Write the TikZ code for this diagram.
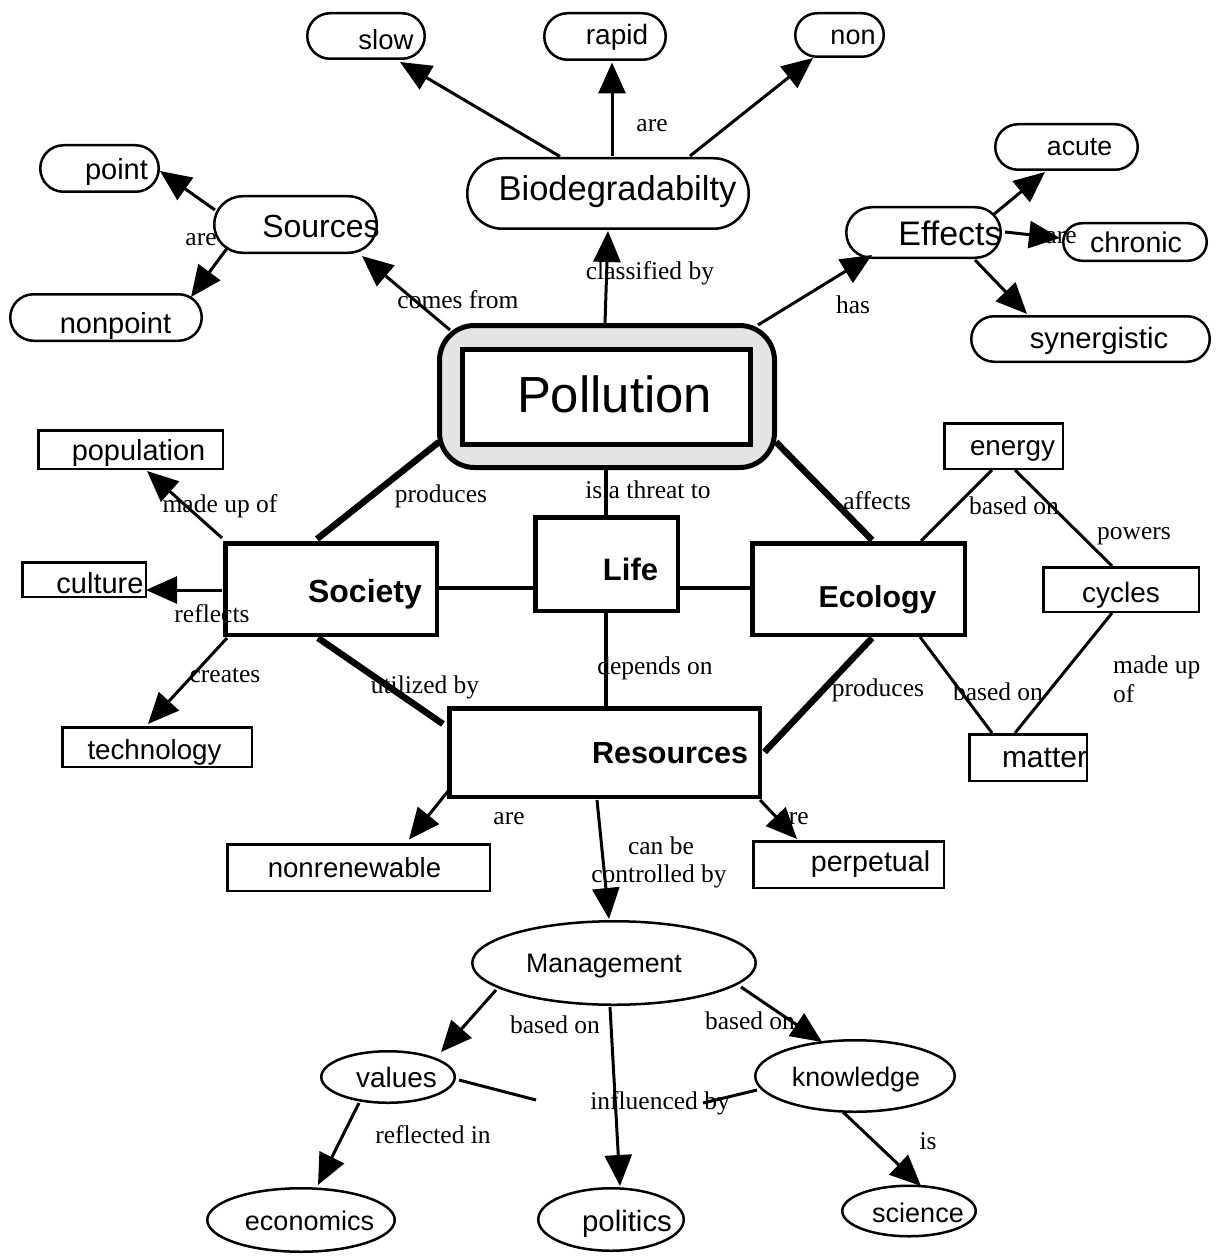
\documentclass[tikz,border=0pt]{standalone}
\usepackage{fontspec}
\setmainfont{Liberation Sans}
\newfontfamily\lblfont{Liberation Serif}
\usetikzlibrary{arrows.meta,shapes.misc,shapes.geometric}
\begin{document}
\begin{tikzpicture}[x=1pt,y=-1pt,
  pill/.style={rounded rectangle, draw, line width=2.5pt, fill=white, inner sep=0pt},
  sbox/.style={rectangle, draw, line width=2.5pt, fill=white, inner sep=0pt},
  bbox/.style={rectangle, draw, line width=4.5pt, fill=white, inner sep=0pt},
  oval/.style={ellipse, draw, line width=2.5pt, fill=white, inner sep=0pt},
  tx/.style={anchor=base, inner sep=0pt, font=\fontsize{#1pt}{#1pt}\selectfont},
  btx/.style={anchor=base, inner sep=0pt, font=\bfseries\fontsize{#1pt}{#1pt}\selectfont},
  lbl/.style={inner sep=0pt, font=\lblfont\fontsize{25.5pt}{29pt}\selectfont},
  arr/.style={-{Triangle[length=31pt,width=27pt]}, line width=3pt},
  conn/.style={line width=3pt},
  mid/.style={line width=4pt},
  heavy/.style={line width=6.5pt},
]
\useasboundingbox (0,0) rectangle (1217,1257);
\fill[white] (0,0) rectangle (1217,1257);

% ---- nodes ----
\node[pill, minimum width=117.5pt, minimum height=45.5pt] (slow) at (366,36) {};
\node[tx=27.5] (slowT) at (386,50) {slow};
\node[pill, minimum width=121.5pt, minimum height=46.5pt] (rapid) at (605,36.5) {};
\node[tx=28] (rapidT) at (617,45) {rapid};
\node[pill, minimum width=88.5pt, minimum height=43.5pt] (non) at (839.5,35) {};
\node[tx=27] (nonT) at (853,45) {non};
\node[pill, minimum width=281.5pt, minimum height=70.5pt] (biodeg) at (608,193.5) {};
\node[tx=34.5] (biodegT) at (617.5,201) {Biodegradabilty};
\node[pill, minimum width=118.5pt, minimum height=46.5pt] (point) at (99.5,168.5) {};
\node[tx=29] (pointT) at (116.5,180) {point};
\node[pill, minimum width=162.5pt, minimum height=56.5pt] (sources) at (295.5,224.5) {};
\node[tx=32] (sourcesT) at (321,237) {Sources};
\node[pill, minimum width=191.5pt, minimum height=46.5pt] (nonpoint) at (106,317.5) {};
\node[tx=29] (nonpointT) at (115.5,333) {nonpoint};
\node[pill, minimum width=154.5pt, minimum height=50.5pt] (effects) at (923.5,232.5) {};
\node[tx=34] (effectsT) at (950,245) {Effects};
\node[pill, minimum width=142.5pt, minimum height=45.5pt] (acute) at (1066.5,147) {};
\node[tx=26.6] (acuteT) at (1079.5,156) {acute};
\node[pill, minimum width=143.5pt, minimum height=37.5pt] (chronic) at (1135,242) {};
\node[tx=28.5] (chronicT) at (1136,253) {chronic};
\node[pill, minimum width=238.5pt, minimum height=45.5pt] (synergistic) at (1090.5,339) {};
\node[tx=29.3] (synergisticT) at (1099,348) {synergistic};

\node[draw, line width=5pt, fill={rgb,255:red,228;green,228;blue,228}, rounded corners=35pt,
      minimum width=335pt, minimum height=142pt, inner sep=0pt] (pollution) at (607,396.5) {};
\node[draw, line width=5pt, fill=white, minimum width=288pt, minimum height=95pt, inner sep=0pt] (pollin) at (606.5,397) {};
\node[tx=50.8] (pollutionT) at (614.5,412) {Pollution};

\node[sbox, minimum width=184.5pt, minimum height=38.5pt] (population) at (130.5,449.5) {};
\node[tx=28.9] (populationT) at (138.5,460) {population};
\node[sbox, minimum width=123.5pt, minimum height=34.5pt] (culture) at (84,579.5) {};
\node[tx=29] (cultureT) at (100,593) {culture};
\node[bbox, minimum width=211.5pt, minimum height=91.5pt] (society) at (331,589) {};
\node[btx=32] (societyT) at (365,602) {Society};
\node[sbox, minimum width=189.5pt, minimum height=39.5pt] (technology) at (157,747) {};
\node[tx=27.7] (technologyT) at (154.5,759) {technology};
\node[bbox, minimum width=142.5pt, minimum height=93.5pt] (life) at (606.5,564) {};
\node[btx=31] (lifeT) at (630.5,580) {Life};
\node[bbox, minimum width=212.5pt, minimum height=91.5pt] (ecology) at (858.5,589) {};
\node[btx=30.3] (ecologyT) at (877.5,607) {Ecology};
\node[sbox, minimum width=118.5pt, minimum height=45.5pt] (energy) at (1003.5,446) {};
\node[tx=27.8] (energyT) at (1012.5,455) {energy};
\node[sbox, minimum width=155.5pt, minimum height=44.5pt] (cycles) at (1121,589.5) {};
\node[tx=28] (cyclesT) at (1121,602) {cycles};
\node[sbox, minimum width=117.5pt, minimum height=46.5pt] (matter) at (1028,757.5) {};
\node[tx=30] (matterT) at (1044.5,767) {matter};
\node[bbox, minimum width=310.5pt, minimum height=88.5pt] (resources) at (604.5,752.5) {};
\node[btx=30.5] (resourcesT) at (670,763) {Resources};
\node[sbox, minimum width=262.5pt, minimum height=46.5pt] (nonrenewable) at (358.5,867.5) {};
\node[tx=27.6] (nonrenewableT) at (354.5,877) {nonrenewable};
\node[sbox, minimum width=190.5pt, minimum height=46.5pt] (perpetual) at (848.5,864.5) {};
\node[tx=28.6] (perpetualT) at (870.5,871) {perpetual};

\node[oval, minimum width=283.5pt, minimum height=83.5pt] (management) at (614,963) {};
\node[tx=26.7] (managementT) at (604,972) {Management};
\node[oval, minimum width=133.5pt, minimum height=51.5pt] (values) at (388,1077) {};
\node[tx=28] (valuesT) at (396.5,1087) {values};
\node[oval, minimum width=199.5pt, minimum height=71.5pt] (knowledge) at (855,1076) {};
\node[tx=26.8] (knowledgeT) at (856,1086) {knowledge};
\node[oval, minimum width=187.5pt, minimum height=63.5pt] (economics) at (301,1220) {};
\node[tx=27] (economicsT) at (309.5,1230) {economics};
\node[oval, minimum width=145.5pt, minimum height=62.5pt] (politics) at (611,1219.5) {};
\node[tx=29.4] (politicsT) at (627,1231) {politics};
\node[oval, minimum width=133.5pt, minimum height=50.5pt] (science) at (909,1211) {};
\node[tx=27] (scienceT) at (918,1222) {science};

% ---- labels ----
\node[lbl] (l1) at (201,240) {are};
\node[lbl] (l2) at (458,300) {comes from};
\node[lbl] (l3) at (650,273) {classified by};
\node[lbl] (l4) at (652,126) {are};
\node[lbl] (l5) at (853,305) {has};
\node[lbl] (l6) at (1061,238) {are};
\node[lbl] (l7) at (220,506) {made up of};
\node[lbl] (l8) at (212,614) {reflects};
\node[lbl] (l9) at (225,675) {creates};
\node[lbl] (l10) at (441,496) {produces};
\node[lbl] (l11) at (425,687) {utilized by};
\node[lbl] (l12) at (648,490) {is a threat to};
\node[lbl] (l13) at (877,501) {affects};
\node[lbl] (l14) at (1014,506) {based on};
\node[lbl] (l15) at (1134,536) {powers};
\node[lbl, align=left, anchor=north west] (l16) at (1113,655.5) {made up\\of};
\node[lbl] (l17) at (878,690) {produces};
\node[lbl] (l18) at (998,692) {based on};
\node[lbl] (l19) at (655,668) {depends on};
\node[lbl] (l20) at (509,819) {are};
\node[lbl] (l21) at (793,819) {are};
\node[lbl] (l22) at (661,846) {can be};
\node[lbl] (l23) at (659,876) {controlled by};
\node[lbl] (l24) at (555,1025) {based on};
\node[lbl] (l25) at (750,1021) {based on};
\node[lbl] (l26) at (660,1103) {influenced by};
\node[lbl] (l27) at (433,1135) {reflected in};
\node[lbl] (l28) at (928,1141) {is};

\coordinate (vend) at (536,1100);
\coordinate (kend) at (703,1103);

% ---- connectors ----
\draw[arr] ([shift={(-48,-37)}]biodeg.center) -- ([shift={(34,26)}]slow.center);
\draw[arr] ([shift={(4,-37)}]biodeg.center) -- ([shift={(7,26)}]rapid.center);
\draw[arr] ([shift={(82,-37.5)}]biodeg.center) -- ([shift={(-26.5,23)}]non.center);
\draw[arr] ([shift={(-2,-73.5)}]pollution.center) -- ([shift={(0,37.5)}]biodeg.center);
\draw[arr] ([shift={(-157,-66.5)}]pollution.center) -- ([shift={(66.5,31.5)}]sources.center);
\draw[arr] ([shift={(-80.5,-14.5)}]sources.center) -- ([shift={(60.5,2.5)}]point.center);
\draw[arr] ([shift={(-67.5,22.5)}]sources.center) -- ([shift={(85,-20.5)}]nonpoint.center);
\draw[arr] ([shift={(151,-71.5)}]pollution.center) -- ([shift={(-51.5,22.5)}]effects.center);
\draw[arr] ([shift={(69.5,-17.5)}]effects.center) -- ([shift={(-21.5,25)}]acute.center);
\draw[arr] ([shift={(81.5,-0.5)}]effects.center) -- ([shift={(-75,-4)}]chronic.center);
\draw[arr] ([shift={(51.5,27.5)}]effects.center) -- ([shift={(-63.5,-25)}]synergistic.center);
\draw[arr] ([shift={(-109,-51)}]society.center) -- ([shift={(16.5,21.5)}]population.center);
\draw[arr] ([shift={(-109,1)}]society.center) -- ([shift={(62,10.5)}]culture.center);
\draw[arr] ([shift={(-104,49)}]society.center) -- ([shift={(-9,-23)}]technology.center);
\draw[heavy] ([shift={(-168,45.5)}]pollution.center) -- ([shift={(-14,-50)}]society.center);
\draw[heavy] ([shift={(-13,49)}]society.center) -- ([shift={(-161.5,-28.5)}]resources.center);
\draw[mid] ([shift={(108,-1)}]society.center) -- ([shift={(-73.5,24)}]life.center);
\draw[mid] ([shift={(73.5,24)}]life.center) -- ([shift={(-108.5,-1)}]ecology.center);
\draw[mid] ([shift={(-1,73.5)}]pollution.center) -- ([shift={(-0.5,-49)}]life.center);
\draw[mid] ([shift={(-0.5,49)}]life.center) -- ([shift={(1.5,-46.5)}]resources.center);
\draw[heavy] ([shift={(169,45.5)}]pollution.center) -- ([shift={(13.5,-49)}]ecology.center);
\draw[heavy] ([shift={(13.5,49)}]ecology.center) -- ([shift={(160,-0.5)}]resources.center);
\draw[conn] ([shift={(62.5,-48)}]ecology.center) -- ([shift={(-11.5,24)}]energy.center);
\draw[conn] ([shift={(11.5,24)}]energy.center) -- ([shift={(-9,-23.5)}]cycles.center);
\draw[conn] ([shift={(-9,23.5)}]cycles.center) -- ([shift={(-13,-24.5)}]matter.center);
\draw[conn] ([shift={(61.5,48)}]ecology.center) -- ([shift={(-36,-24.5)}]matter.center);
\draw[arr] ([shift={(-155.5,37.5)}]resources.center) -- ([shift={(50.5,-28)}]nonrenewable.center);
\draw[arr] ([shift={(155.5,47.5)}]resources.center) -- ([shift={(-51.5,-25.5)}]perpetual.center);
\draw[arr] ([shift={(-7.5,47.5)}]resources.center) -- ([shift={(-5,-44)}]management.center);
\draw[arr] ([shift={(-118,27)}]management.center) -- ([shift={(53,-25)}]values.center);
\draw[arr] ([shift={(127,24)}]management.center) -- ([shift={(-33,-34)}]knowledge.center);
\draw[arr] ([shift={(-4,44)}]management.center) -- ([shift={(9,-33.5)}]politics.center);
\draw[arr] ([shift={(-29,26)}]values.center) -- ([shift={(17,-35)}]economics.center);
\draw[arr] ([shift={(-12,36)}]knowledge.center) -- ([shift={(12,-25)}]science.center);
\draw[conn] ([shift={(71,3)}]values.center) -- (vend);
\draw[conn] ([shift={(-98,14)}]knowledge.center) -- (kend);
\end{tikzpicture}
\end{document}
